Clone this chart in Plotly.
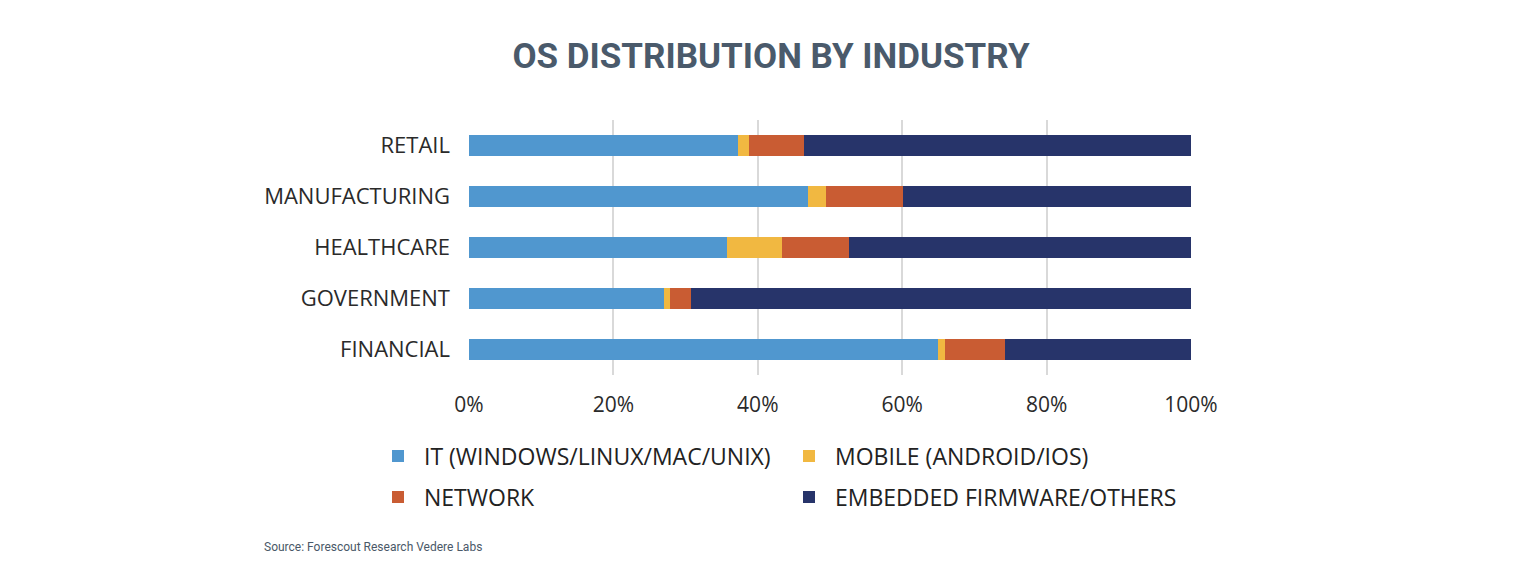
import plotly.graph_objects as go

industries = ["FINANCIAL", "GOVERNMENT", "HEALTHCARE", "MANUFACTURING", "RETAIL"]
it_vals = [64.9, 27.0, 35.7, 47.0, 37.3]
mobile_vals = [1.0, 0.9, 7.6, 2.4, 1.5]
network_vals = [8.3, 2.8, 9.3, 10.7, 7.6]
embedded_vals = [25.8, 69.3, 47.4, 39.9, 53.6]

series_names = ["IT (WINDOWS/LINUX/MAC/UNIX)", "MOBILE (ANDROID/IOS)", "NETWORK", "EMBEDDED FIRMWARE/OTHERS"]
series_values = [it_vals, mobile_vals, network_vals, embedded_vals]
series_colors = ["#5097CF", "#F1B841", "#C95C33", "#27346A"]

tick_vals = [0, 20, 40, 60, 80, 100]
tick_text = ["0%", "20%", "40%", "60%", "80%", "100%"]

W, H = 1514, 570
# legend placement: (symbol center x, row center y) in pixels
legend_ids = ["legend", "legend2", "legend3", "legend4"]
legend_pos = [(397, 456), (808, 456), (397, 497), (808, 497)]

fig = go.Figure()
for name, vals, color, lg in zip(series_names, series_values, series_colors, legend_ids):
    fig.add_trace(go.Bar(
        y=industries, x=vals, name=name, orientation="h",
        marker=dict(color=color, line=dict(width=0)),
        legend=lg, showlegend=True,
    ))

legend_font = dict(family="Open Sans, sans-serif", size=23, color="#222222")
legend_layouts = {}
for lg, (px, py) in zip(legend_ids, legend_pos):
    legend_layouts[lg] = dict(
        orientation="h", xref="container", yref="container",
        x=(px - 25) / W, xanchor="left", y=1 - py / H, yanchor="middle",
        font=legend_font, bgcolor="rgba(0,0,0,0)", itemwidth=42,
        visible=True,
    )

fig.update_layout(
    width=W, height=H,
    showlegend=True,
    barmode="stack",
    bargap=0.59,
    plot_bgcolor="white",
    paper_bgcolor="white",
    margin=dict(l=469, r=323, t=120, b=195),
    title=dict(
        text="<b>OS DISTRIBUTION BY INDUSTRY</b>",
        font=dict(family="Roboto, sans-serif", size=35, color="#4A5A6B"),
        xref="container", x=771 / W, xanchor="center",
        yref="container", y=1 - 56 / H, yanchor="middle",
    ),
    xaxis=dict(
        range=[0, 100], tickvals=tick_vals, ticktext=tick_text,
        showgrid=True, gridcolor="#D9D9D9", gridwidth=1.5,
        zeroline=False, showline=False, ticks="",
        tickfont=dict(family="Open Sans, sans-serif", size=21, color="#2A2A2A"),
        ticklabelstandoff=15,
    ),
    yaxis=dict(
        showgrid=False, zeroline=False, ticks="",
        tickfont=dict(family="Open Sans, sans-serif", size=22, color="#2A2A2A"),
        ticklabelstandoff=18,
    ),
    annotations=[dict(
        text="Source: Forescout Research Vedere Labs",
        xref="paper", yref="paper", showarrow=False,
        x=(262 - 469) / (W - 469 - 323), xanchor="left",
        y=-(546 - 374.5) / (374.5 - 120), yanchor="middle",
        font=dict(family="Roboto, sans-serif", size=12, color="#4A5868"),
    )],
    **legend_layouts,
)

fig.write_html("out.html")
